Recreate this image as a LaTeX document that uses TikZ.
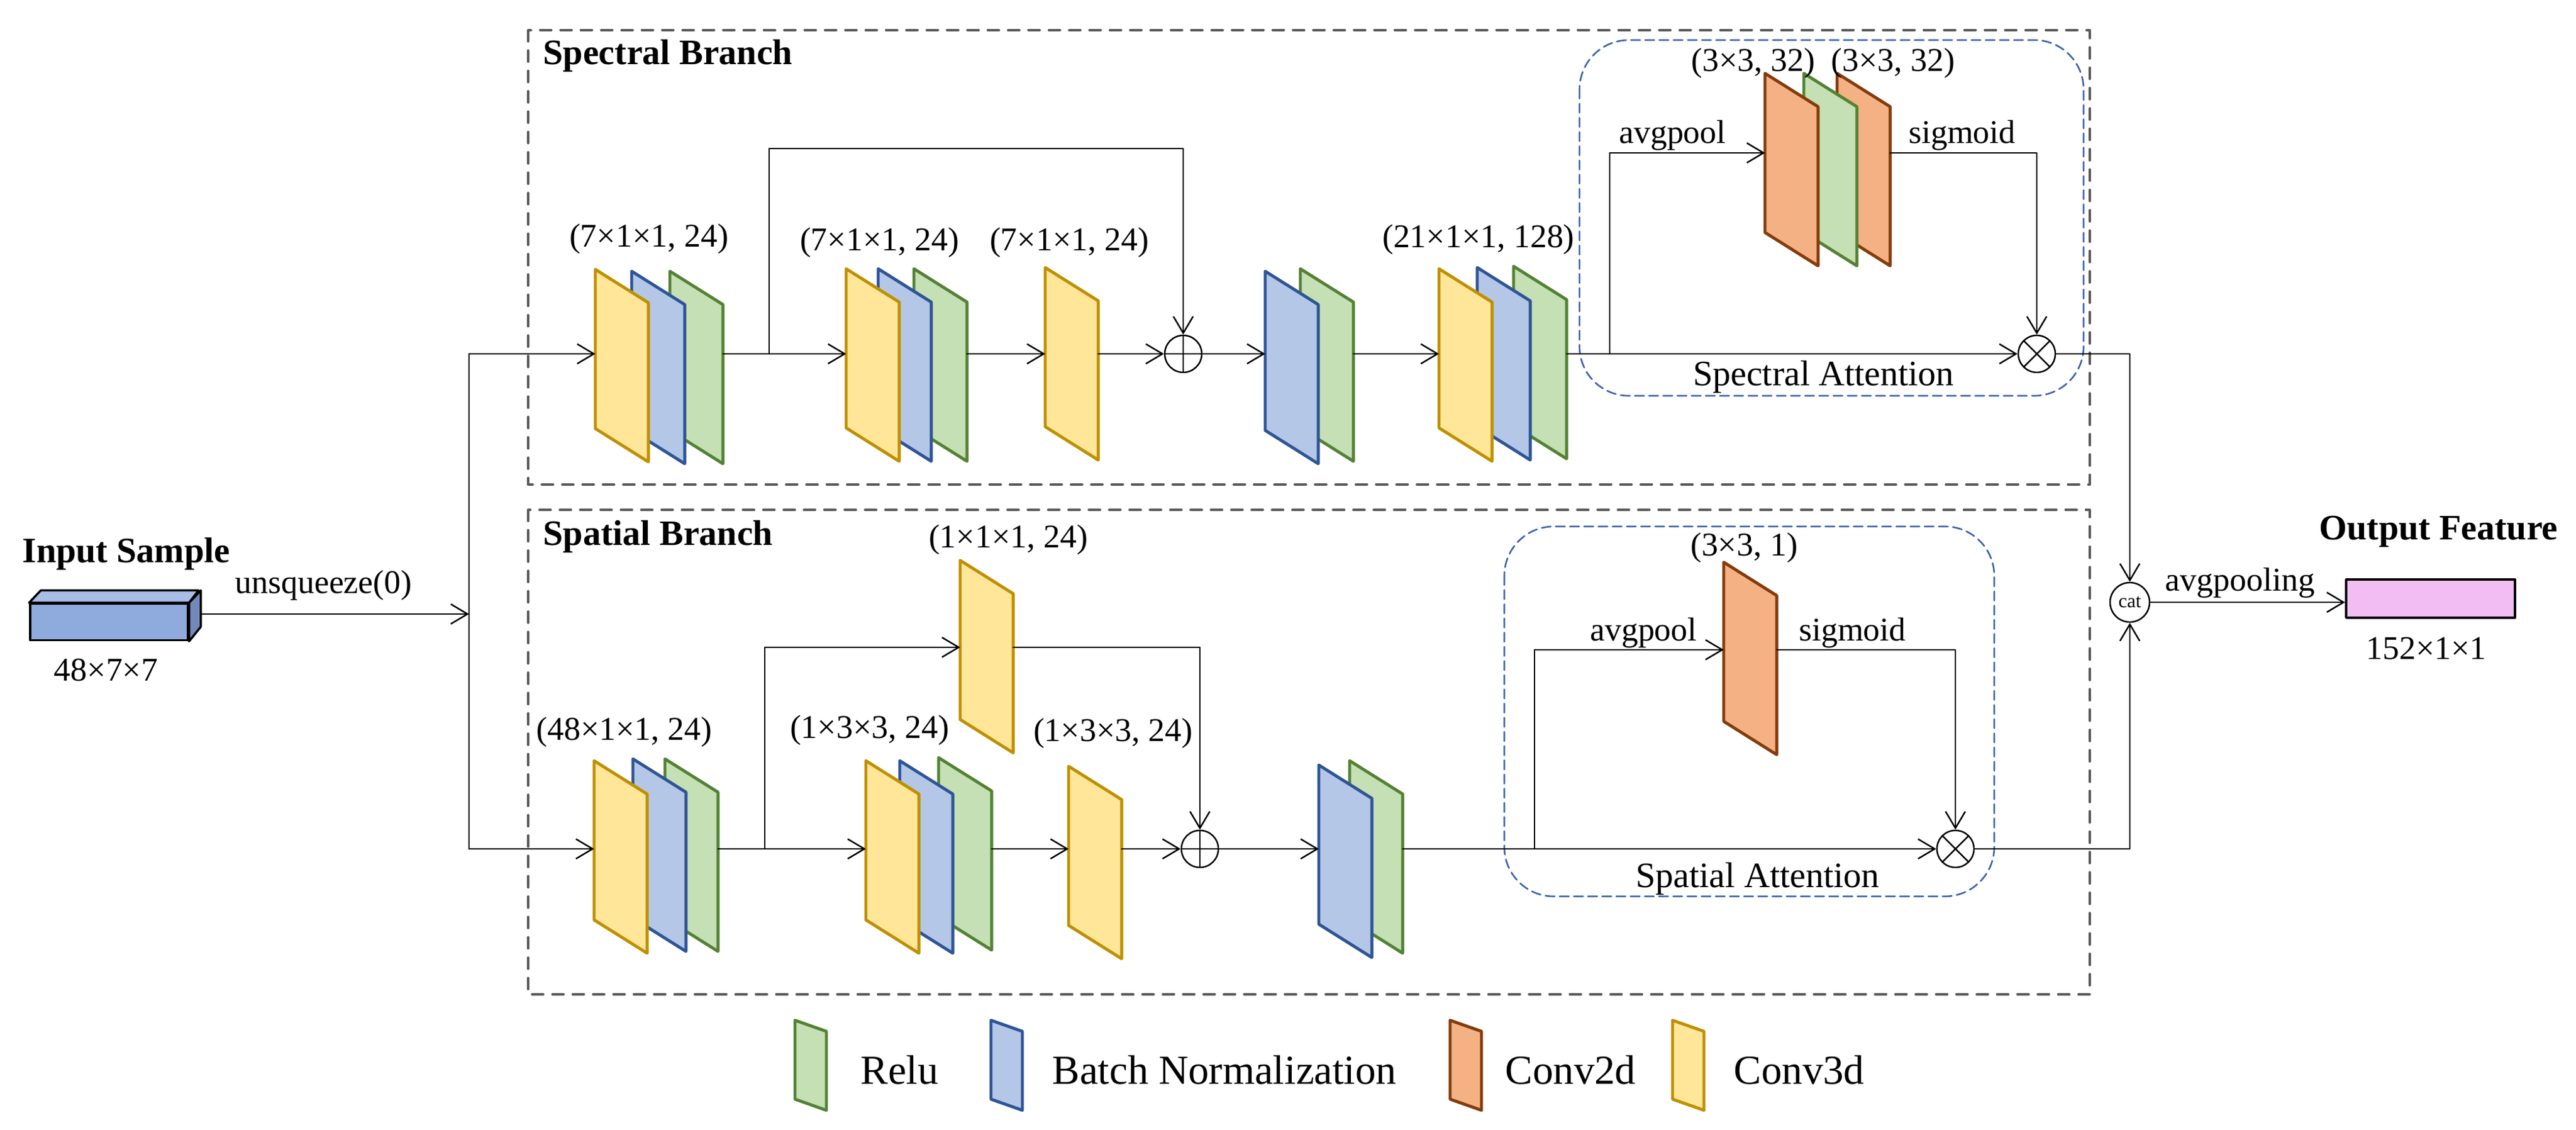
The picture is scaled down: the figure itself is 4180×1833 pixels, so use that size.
\documentclass[tikz,border=0pt]{standalone}
\usepackage{fontspec}
\setmainfont{Liberation Serif}
\usepackage{tikz}
\usetikzlibrary{arrows.meta}
\definecolor{ylwfill}{HTML}{FFE699}
\definecolor{ylwline}{HTML}{BF9000}
\definecolor{blufill}{HTML}{B4C7E7}
\definecolor{bluline}{HTML}{2F5597}
\definecolor{grnfill}{HTML}{C5E0B4}
\definecolor{grnline}{HTML}{548235}
\definecolor{orgfill}{HTML}{F4B183}
\definecolor{orgline}{HTML}{843C0C}
\definecolor{cubefront}{HTML}{8FAADC}
\definecolor{cubetop}{HTML}{A9BDE5}
\definecolor{cubeside}{HTML}{7389BA}
\definecolor{outfill}{HTML}{F2BDF3}
\definecolor{boxgray}{HTML}{595959}
\definecolor{attblue}{HTML}{3B64AD}

\newcommand{\lblfont}{\fontsize{15.3}{18}\selectfont}
\newcommand{\ttlfont}{\fontsize{16.5}{20}\selectfont}
\newcommand{\lgdfont}{\fontsize{19}{23}\selectfont}

\tikzset{
  layerbox/.style={anchor=north west,minimum width=0.86cm,minimum height=3.12cm,inner sep=0pt,outer sep=0pt},
  conv3d/.style={draw=ylwline,fill=ylwfill,line width=1.4pt},
  bnorm/.style={draw=bluline,fill=blufill,line width=1.4pt},
  relu/.style={draw=grnline,fill=grnfill,line width=1.4pt},
  conv2d/.style={draw=orgline,fill=orgfill,line width=1.4pt},
  addop/.style={circle,draw,line width=0.7pt,minimum size=0.6cm,inner sep=0pt,
    path picture={\draw[line width=0.7pt] (path picture bounding box.north) -- (path picture bounding box.south)
      (path picture bounding box.west) -- (path picture bounding box.east);}},
  mulop/.style={circle,draw,line width=0.7pt,minimum size=0.6cm,inner sep=0pt,
    path picture={\draw[line width=0.7pt] (path picture bounding box.north west) -- (path picture bounding box.south east)
      (path picture bounding box.north east) -- (path picture bounding box.south west);}},
  branchbox/.style={draw=boxgray,line width=1.15pt,dash pattern=on 0.18cm off 0.15cm},
  attbox/.style={draw=attblue,line width=0.75pt,dash pattern=on 0.15cm off 0.08cm,rounded corners=0.8cm},
  lbl/.style={font=\lblfont,inner sep=0pt},
  ttl/.style={font=\ttlfont\bfseries,inner sep=0pt},
  attl/.style={font=\ttlfont,inner sep=0pt},
  lgd/.style={font=\lgdfont,inner sep=0pt,anchor=west}
}

% one layer: name, colour style, left x, top y
\newcommand{\layer}[4]{%
  \node[layerbox] (#1) at (#3,#4) {};
  \draw[#2] (#1.north west) -- ([yshift=-0.54cm]#1.north east) -- (#1.south east) -- ([yshift=0.54cm]#1.south west) -- cycle;
}

\begin{document}
\begin{tikzpicture}[line cap=round,line join=round,>={Straight Barb[length=0.27cm,width=0.32cm]},x=0.01cm,y=-0.01cm]
	\useasboundingbox (0,0) rectangle (4180,1833);
	% branch frames
	\draw[branchbox] (857,49) rectangle (3391,786);
	\draw[branchbox] (857,827) rectangle (3391,1613);
	\draw[attbox] (2563,65) rectangle (3381,642);
	\draw[attbox] (2441,854) rectangle (3236,1454);
	\node[ttl,anchor=west] (specttl) at (881,91) {Spectral Branch};
	\node[ttl,anchor=west] (spatttl) at (881,871) {Spatial Branch};
	% input sample
	\node[draw,line width=1pt,fill=cubefront,minimum width=2.56cm,minimum height=0.59cm,inner sep=0pt] (input) at (177,1009) {};
	\draw[line width=1pt,fill=cubetop] (input.north west) -- ++(19,-20) -- ++(256,0) -- (input.north east) -- cycle;
	\draw[line width=1pt,fill=cubeside] (input.north east) -- ++(19,-20) -- ++(0,59) -- (input.south east) -- cycle;
	\node[ttl] (inttl) at (205,899) {Input Sample};
	\node[lbl] (insize) at (172,1087) {48×7×7};
	\node[lbl] (unsq) at (525,950) {unsqueeze(0)};
	\coordinate (fork) at (761,996);
	\coordinate (forkup) at (761,574);
	\coordinate (forkdn) at (761,1377);
	\draw[line width=0.7pt,->] ([xshift=0.19cm]fork -| input.east) -- (fork);
	\draw[line width=0.7pt] (forkup) -- (forkdn);
	% spectral branch
	\layer{s1g}{relu}{1087}{440}
	\layer{s1b}{bnorm}{1025}{440}
	\layer{s1y}{conv3d}{966}{437}
	\layer{s2g}{relu}{1483}{436}
	\layer{s2b}{bnorm}{1425}{436}
	\layer{s2y}{conv3d}{1373}{436}
	\layer{s3y}{conv3d}{1696}{434}
	\layer{s4g}{relu}{2110}{436}
	\layer{s4b}{bnorm}{2053}{440}
	\layer{s5g}{relu}{2456}{432}
	\layer{s5b}{bnorm}{2397}{434}
	\layer{s5y}{conv3d}{2335}{436}
	\layer{a1r}{conv2d}{2981}{119}
	\layer{a1g}{relu}{2927}{119}
	\layer{a1o}{conv2d}{2864}{119}
	\node[addop] (add1) at (1920,574) {};
	\node[mulop] (mul1) at (3305,574) {};
	\node[lbl] (ls1) at (1053,388) {(7×1×1, 24)};
	\node[lbl] (ls2) at (1427,394) {(7×1×1, 24)};
	\node[lbl] (ls3) at (1735,394) {(7×1×1, 24)};
	\node[lbl] (ls5) at (2399,389) {(21×1×1, 128)};
	\node[lbl] (la1) at (2845,103) {(3×3, 32)};
	\node[lbl] (la2) at (3072,103) {(3×3, 32)};
	\node[lbl] (savg) at (2714,220) {avgpool};
	\node[lbl] (ssig) at (3184,220) {sigmoid};
	\node[attl] (sattl) at (2959,612) {Spectral Attention};
	\coordinate (sskip) at (1248,574);
	\coordinate (sskiptop) at (1248,241);
	\coordinate (sabr) at (2612,574);
	\coordinate (satop) at (2612,248);
	\begin{scope}[line width=0.7pt]
	  \draw[->] (forkup) -- (s1y.west |- forkup);
	  \draw[->] (s1g.east |- forkup) -- (s2y.west |- forkup);
	  \draw[->] (sskip) -- (sskiptop) -| (add1.north);
	  \draw[->] (s2g.east |- forkup) -- (s3y.west |- forkup);
	  \draw[->] (s3y.east |- add1) -- (add1.west);
	  \draw[->] (add1.east) -- (s4b.west |- add1);
	  \draw[->] (s4g.east |- add1) -- (s5y.west |- add1);
	  \draw[->] (s5g.east |- mul1) -- (mul1.west);
	  \draw[->] (sabr) -- (satop) -- (a1o.west |- satop);
	  \draw[->] (a1r.east |- satop) -| (mul1.north);
	\end{scope}
	% spatial branch
	\layer{p1g}{relu}{1079}{1231}
	\layer{p1b}{bnorm}{1027}{1231}
	\layer{p1y}{conv3d}{964}{1234}
	\layer{pu}{conv3d}{1558}{909}
	\layer{p2g}{relu}{1523}{1229}
	\layer{p2b}{bnorm}{1460}{1234}
	\layer{p2y}{conv3d}{1405}{1234}
	\layer{p3y}{conv3d}{1734}{1243}
	\layer{p4g}{relu}{2190}{1234}
	\layer{p4b}{bnorm}{2140}{1241}
	\layer{p5o}{conv2d}{2797}{912}
	\node[addop] (add2) at (1947,1377) {};
	\node[mulop] (mul2) at (3173,1377) {};
	\node[lbl] (lp1) at (1013,1188) {(48×1×1, 24)};
	\node[lbl] (lpu) at (1636,876) {(1×1×1, 24)};
	\node[lbl] (lp2) at (1411,1185) {(1×3×3, 24)};
	\node[lbl] (lp3) at (1806,1190) {(1×3×3, 24)};
	\node[lbl] (lp5) at (2830,889) {(3×3, 1)};
	\node[lbl] (pavg) at (2667,1027) {avgpool};
	\node[lbl] (psig) at (3006,1027) {sigmoid};
	\node[attl] (pattl) at (2852,1426) {Spatial Attention};
	\coordinate (pskip) at (1241,1377);
	\coordinate (pskiptop) at (1241,1050);
	\coordinate (pabr) at (2490,1377);
	\coordinate (patop) at (2490,1054);
	\begin{scope}[line width=0.7pt]
	  \draw[->] (forkdn) -- (p1y.west |- forkdn);
	  \draw[->] (p1g.east |- forkdn) -- (p2y.west |- forkdn);
	  \draw[->] (pskip) -- (pskiptop) -- (pu.west |- pskiptop);
	  \draw[->] (pu.east |- pskiptop) -| (add2.north);
	  \draw[->] (p2g.east |- forkdn) -- (p3y.west |- forkdn);
	  \draw[->] (p3y.east |- add2) -- (add2.west);
	  \draw[->] (add2.east) -- (p4b.west |- add2);
	  \draw[->] (p4g.east |- mul2) -- (mul2.west);
	  \draw[->] (pabr) -- (patop) -- (p5o.west |- patop);
	  \draw[->] (p5o.east |- patop) -| (mul2.north);
	\end{scope}
	% output
	\node[circle,draw,line width=0.7pt,minimum size=0.64cm,inner sep=0pt,font=\fontsize{9}{10}\selectfont] (cat) at (3456,977) {cat};
	\node[draw,line width=1pt,fill=outfill,minimum width=2.74cm,minimum height=0.62cm,inner sep=0pt] (outfeat) at (3944,971) {};
	\node[ttl] (outttl) at (3957,862) {Output Feature};
	\node[lbl] (outsize) at (3937,1052) {152×1×1};
	\node[lbl] (outavg) at (3635,946) {avgpooling};
	\begin{scope}[line width=0.7pt]
	  \draw[->] (mul1.east) -| (cat.north);
	  \draw[->] (mul2.east) -| (cat.south);
	  \draw[->] (cat.east) -- (cat.east -| outfeat.west);
	\end{scope}
	% legend
	\foreach \x/\st in {1290/relu,1608/bnorm,2353/conv2d,2714/conv3d}
	  \draw[\st] (\x,1655) -- ++(51,18) -- ++(0,128) -- ++(-51,-18) -- cycle;
	\node[lgd] (lgrelu) at (1396,1736) {Relu};
	\node[lgd] (lgbn) at (1707,1736) {Batch Normalization};
	\node[lgd] (lgc2) at (2442,1736) {Conv2d};
	\node[lgd] (lgc3) at (2813,1736) {Conv3d};
\end{tikzpicture}
\end{document}
